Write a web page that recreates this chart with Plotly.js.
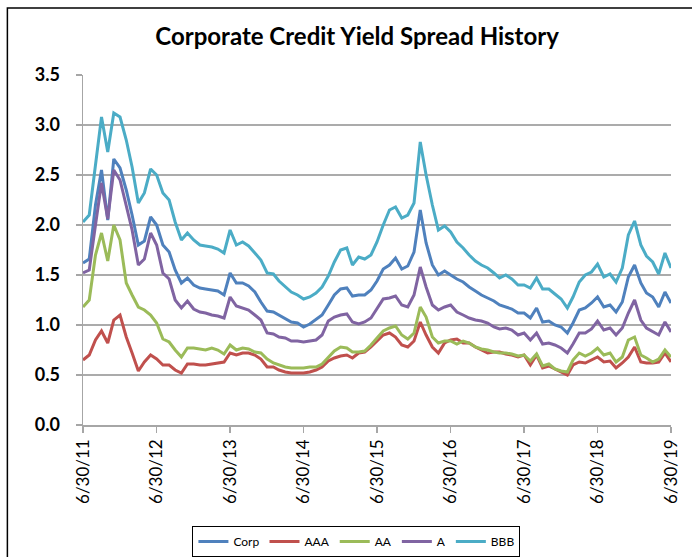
<!DOCTYPE html>
<html>
<head>
<meta charset="utf-8">
<script src="https://cdn.plot.ly/plotly-3.0.1.min.js"></script>
<style>
html,body{margin:0;padding:0;background:#fff;}
#chart{width:692px;height:557px;}
</style>
</head>
<body>
<div id="chart"></div>
<script>
const dates = [
'2011-06-30','2011-07-31','2011-08-31','2011-09-30','2011-10-31','2011-11-30','2011-12-31',
'2012-01-31','2012-02-29','2012-03-31','2012-04-30','2012-05-31','2012-06-30','2012-07-31','2012-08-31','2012-09-30','2012-10-31','2012-11-30','2012-12-31',
'2013-01-31','2013-02-28','2013-03-31','2013-04-30','2013-05-31','2013-06-30','2013-07-31','2013-08-31','2013-09-30','2013-10-31','2013-11-30','2013-12-31',
'2014-01-31','2014-02-28','2014-03-31','2014-04-30','2014-05-31','2014-06-30','2014-07-31','2014-08-31','2014-09-30','2014-10-31','2014-11-30','2014-12-31',
'2015-01-31','2015-02-28','2015-03-31','2015-04-30','2015-05-31','2015-06-30','2015-07-31','2015-08-31','2015-09-30','2015-10-31','2015-11-30','2015-12-31',
'2016-01-31','2016-02-29','2016-03-31','2016-04-30','2016-05-31','2016-06-30','2016-07-31','2016-08-31','2016-09-30','2016-10-31','2016-11-30','2016-12-31',
'2017-01-31','2017-02-28','2017-03-31','2017-04-30','2017-05-31','2017-06-30','2017-07-31','2017-08-31','2017-09-30','2017-10-31','2017-11-30','2017-12-31',
'2018-01-31','2018-02-28','2018-03-31','2018-04-30','2018-05-31','2018-06-30','2018-07-31','2018-08-31','2018-09-30','2018-10-31','2018-11-30','2018-12-31',
'2019-01-31','2019-02-28','2019-03-31','2019-04-30','2019-05-31','2019-06-30'
];

const corp = [1.62,1.66,2.20,2.55,2.05,2.66,2.57,2.35,2.10,1.80,1.84,2.08,2.00,1.80,1.73,1.55,1.42,1.47,1.40,
1.37,1.36,1.35,1.34,1.30,1.52,1.42,1.42,1.39,1.33,1.23,1.14,
1.13,1.10,1.07,1.03,1.02,0.98,1.01,1.06,1.10,1.20,1.30,1.36,
1.37,1.29,1.30,1.30,1.35,1.44,1.56,1.60,1.67,1.56,1.59,1.73,
2.15,1.82,1.60,1.50,1.54,1.50,1.46,1.43,1.38,1.34,1.30,1.27,
1.24,1.20,1.18,1.16,1.12,1.12,1.07,1.17,1.03,1.04,1.00,0.98,
0.92,1.02,1.15,1.17,1.22,1.28,1.18,1.20,1.13,1.23,1.48,1.60,
1.42,1.32,1.28,1.18,1.33,1.22];

const aaa = [0.65,0.70,0.85,0.94,0.82,1.05,1.10,0.88,0.72,0.54,0.63,0.70,0.66,0.60,0.60,0.55,0.52,0.61,0.61,
0.60,0.60,0.61,0.62,0.63,0.72,0.70,0.72,0.72,0.70,0.66,0.58,
0.58,0.55,0.53,0.52,0.52,0.52,0.53,0.55,0.58,0.64,0.67,0.69,
0.70,0.67,0.72,0.73,0.78,0.84,0.90,0.92,0.88,0.80,0.78,0.84,
1.03,0.90,0.78,0.72,0.82,0.85,0.86,0.82,0.82,0.78,0.75,0.72,
0.73,0.73,0.71,0.70,0.68,0.70,0.60,0.70,0.57,0.59,0.56,0.53,
0.50,0.60,0.63,0.62,0.65,0.68,0.63,0.64,0.57,0.62,0.68,0.78,
0.63,0.62,0.62,0.63,0.72,0.63];

const aa = [1.18,1.25,1.70,1.92,1.64,2.00,1.85,1.42,1.30,1.18,1.15,1.10,1.02,0.86,0.83,0.75,0.68,0.77,0.77,
0.76,0.75,0.77,0.75,0.71,0.80,0.75,0.77,0.76,0.73,0.72,0.66,
0.62,0.60,0.58,0.57,0.57,0.57,0.58,0.58,0.61,0.68,0.74,0.78,
0.77,0.73,0.73,0.74,0.80,0.87,0.94,0.97,0.99,0.90,0.86,0.92,
1.18,1.08,0.88,0.82,0.84,0.84,0.81,0.84,0.82,0.78,0.76,0.75,
0.73,0.72,0.72,0.71,0.69,0.70,0.64,0.71,0.59,0.61,0.56,0.54,
0.53,0.65,0.72,0.69,0.72,0.77,0.70,0.72,0.63,0.68,0.85,0.88,
0.70,0.67,0.63,0.66,0.75,0.68];

const a = [1.52,1.55,2.00,2.42,2.06,2.55,2.45,2.20,1.95,1.60,1.66,1.92,1.80,1.52,1.46,1.25,1.17,1.24,1.16,
1.13,1.12,1.10,1.09,1.07,1.28,1.19,1.17,1.15,1.10,1.05,0.92,
0.91,0.88,0.87,0.84,0.84,0.83,0.84,0.85,0.90,1.04,1.08,1.10,
1.11,1.03,1.01,1.03,1.07,1.17,1.26,1.27,1.29,1.20,1.18,1.30,
1.58,1.38,1.20,1.15,1.18,1.20,1.13,1.10,1.07,1.05,1.04,1.02,
0.98,0.96,0.97,0.95,0.90,0.92,0.85,0.92,0.81,0.82,0.80,0.77,
0.72,0.81,0.92,0.92,0.96,1.04,0.95,0.97,0.90,0.97,1.12,1.25,
1.05,0.97,0.93,0.90,1.03,0.93];

const bbb = [2.03,2.10,2.60,3.08,2.73,3.12,3.08,2.85,2.58,2.22,2.32,2.56,2.50,2.32,2.25,2.03,1.85,1.92,1.85,
1.80,1.79,1.78,1.76,1.72,1.95,1.80,1.83,1.79,1.72,1.65,1.52,
1.51,1.44,1.38,1.33,1.30,1.26,1.28,1.32,1.38,1.49,1.63,1.75,
1.77,1.60,1.68,1.66,1.70,1.83,2.00,2.15,2.18,2.07,2.10,2.22,
2.83,2.50,2.20,1.95,1.99,1.93,1.83,1.77,1.70,1.64,1.60,1.57,
1.52,1.47,1.50,1.46,1.40,1.40,1.37,1.47,1.36,1.36,1.31,1.26,
1.17,1.28,1.43,1.50,1.53,1.61,1.48,1.51,1.43,1.57,1.90,2.04,
1.80,1.69,1.63,1.51,1.72,1.57];

const seriesNames = ['Corp','AAA','AA','A','BBB'];
const seriesValues = [corp, aaa, aa, a, bbb];
const seriesColors = ['#4F81BD','#C0504D','#9BBB59','#8064A2','#4BACC6'];

const tickDates = ['2011-06-30','2012-06-30','2013-06-30','2014-06-30','2015-06-30','2016-06-30','2017-06-30','2018-06-30','2019-06-30'];
const tickLabels = ['6/30/11','6/30/12','6/30/13','6/30/14','6/30/15','6/30/16','6/30/17','6/30/18','6/30/19'];
const yTicks = [0,0.5,1,1.5,2,2.5,3,3.5];
const yTickLabels = ['0.0','0.5','1.0','1.5','2.0','2.5','3.0','3.5'];

const traces = seriesNames.map((n,i)=>({
  x: dates, y: seriesValues[i], name: n, type:'scatter', mode:'lines',
  line:{color: seriesColors[i], width:3}, hoverinfo:'skip'
}));

const FONT = 'Lato, "Open Sans", sans-serif';
const layout = {
  width:692, height:557,
  margin:{l:83, r:21, t:75, b:132, autoexpand:false},
  paper_bgcolor:'#ffffff', plot_bgcolor:'#ffffff',
  font:{family:FONT, color:'#000'},
  title:{text:'<b>Corporate Credit Yield Spread History</b>', x:0.516, xanchor:'center', y:0.934, yanchor:'middle', font:{size:24, family:FONT, color:'#000'}},
  xaxis:{
    type:'date', range:['2011-06-30','2019-06-30'],
    tickvals: tickDates, ticktext: tickLabels, tickangle:-90,
    showgrid:false, showline:true, linecolor:'#a6a6a6', linewidth:1.5,
    ticks:'outside', ticklen:6, tickcolor:'#a6a6a6', tickwidth:1.5,
    tickfont:{size:17, family:FONT, color:'#000'}, zeroline:false, automargin:false
  },
  yaxis:{
    range:[0,3.5], tickvals:yTicks, ticktext:yTickLabels,
    showgrid:true, gridcolor:'#ababab', gridwidth:1.5,
    showline:true, linecolor:'#a6a6a6', linewidth:1.5,
    ticks:'outside', ticklen:6, tickcolor:'#a6a6a6', tickwidth:1.5,
    ticklabelstandoff:12, automargin:false,
    tickfont:{size:18, family:FONT, color:'#000', weight:'bold'}, zeroline:false
  },
  showlegend:true,
  legend:{orientation:'h', x:0.465, xanchor:'center', y:-0.2886, yanchor:'top',
    bordercolor:'#000', borderwidth:1, bgcolor:'#fff',
    font:{size:12, family:FONT, color:'#000'}, itemwidth:30, tracegroupgap:0},
  shapes:[{type:'rect', xref:'paper', yref:'paper', x0:-0.1286, x1:1.2, y0:-0.4, y1:1.1914,
    line:{color:'#000', width:1.5}, fillcolor:'rgba(0,0,0,0)', layer:'below'}]
};

Plotly.newPlot('chart', traces, layout, {displayModeBar:false, staticPlot:true});
</script>
</body>
</html>
